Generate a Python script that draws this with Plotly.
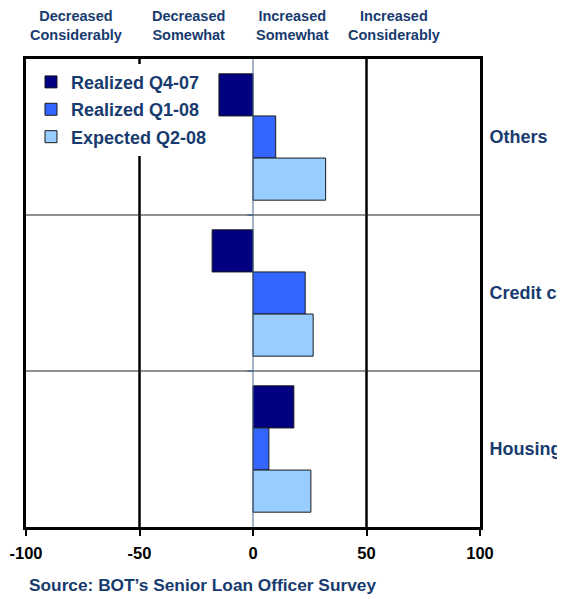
import plotly.graph_objects as go

categories = ["Others", "Credit cards", "Housing"]
series_names = ["Realized Q4-07", "Realized Q1-08", "Expected Q2-08"]
realized_q4_07 = [-15, -18, 18]
realized_q1_08 = [10, 23, 7]
expected_q2_08 = [32, 26.5, 25.5]
x_ticks = [-100, -50, 0, 50, 100]
top_labels = ["Decreased<br>Considerably", "Decreased<br>Somewhat",
              "Increased<br>Somewhat", "Increased<br>Considerably"]
source_text = "Source: BOT\u2019s Senior Loan Officer Survey"

colors = ["#000080", "#3366FF", "#99CCFF"]
text_color = "#173B6E"
font_family = "Arial, Liberation Sans, sans-serif"

fig = go.Figure()
for i, (name, vals, col) in enumerate(zip(series_names, [realized_q4_07, realized_q1_08, expected_q2_08], colors)):
    fig.add_trace(go.Bar(
        y=categories, x=vals, name=name, orientation="h", legendgroup=f"g{i}",
        marker=dict(color=col, line=dict(color="#1a1a1a", width=1)),
    ))

shapes = []
for xv in [-50, 50]:
    shapes.append(dict(type="line", xref="x", yref="paper", x0=xv, x1=xv, y0=0, y1=1,
                       line=dict(color="black", width=2.5), layer="below"))
shapes.append(dict(type="line", xref="x", yref="paper", x0=0, x1=0, y0=0, y1=1,
                   line=dict(color="#46688C", width=1), layer="above"))
for yv in [0.5, 1.5]:
    shapes.append(dict(type="line", xref="paper", yref="y", x0=0, x1=1, y0=yv, y1=yv,
                       line=dict(color="#222222", width=1), layer="below"))
    shapes.append(dict(type="line", xref="x", yref="y", x0=-2.5, x1=0, y0=yv, y1=yv,
                       line=dict(color="#46688C", width=1.5), layer="above"))

annotations = []
for lbl, xp in zip(top_labels, [0.110, 0.357, 0.586, 0.811]):
    annotations.append(dict(text=lbl, xref="paper", yref="paper", x=xp, y=1.0726,
                            xanchor="center", yanchor="middle", showarrow=False,
                            font=dict(family=font_family, size=14.5, color=text_color,
                                      weight="bold")))
annotations.append(dict(text=source_text, xref="paper", yref="paper", x=0.002, y=-0.124,
                        xanchor="left", yanchor="middle", showarrow=False,
                        font=dict(family=font_family, size=17.3, color=text_color,
                                  weight="bold")))

fig.update_layout(
    width=557, height=591,
    margin=dict(l=18, r=85, t=51, b=72, pad=0),
    paper_bgcolor="white", plot_bgcolor="white",
    barmode="group", bargap=0.19, bargroupgap=0,
    font=dict(family=font_family, size=14, color=text_color, weight="bold"),
    shapes=shapes, annotations=annotations,
    showlegend=True,
    legend=dict(x=0.011, y=0.99, xanchor="left", yanchor="top",
                bgcolor="white", borderwidth=0, tracegroupgap=1,
                font=dict(family=font_family, size=18, color=text_color, weight="bold"),
                traceorder="grouped"),
    xaxis=dict(range=[-100, 100], tickvals=x_ticks, ticktext=[str(v) for v in x_ticks],
               showgrid=False, zeroline=False, showline=True, mirror=True,
               linecolor="black", linewidth=3, ticks="outside", ticklen=6, tickwidth=2,
               tickcolor="black", automargin=False, ticklabelstandoff=3,
               tickfont=dict(family=font_family, size=16.5, color="black", weight="bold")),
    yaxis=dict(side="right", autorange="reversed", showgrid=False, zeroline=False,
               showline=True, mirror=True, linecolor="black", linewidth=3,
               ticks="", automargin=False, ticklabelstandoff=3,
               tickfont=dict(family=font_family, size=18, color=text_color, weight="bold")),
)

fig.write_html("out.html")
